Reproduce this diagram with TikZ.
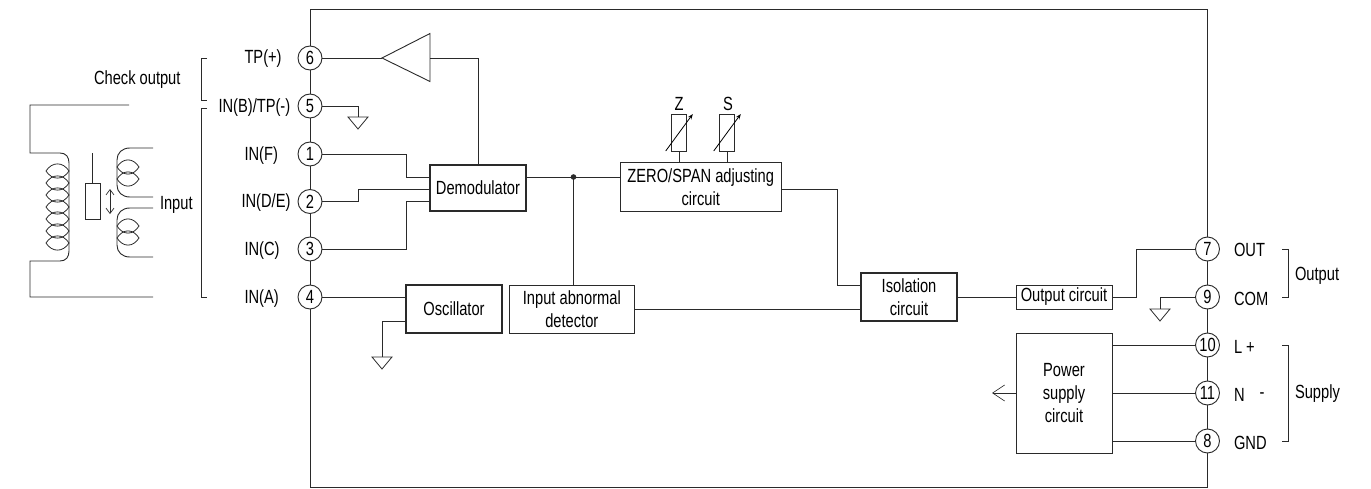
\documentclass[tikz,border=0pt]{standalone}
\usepackage{fontspec}
\setmainfont[FakeStretch=0.77]{Liberation Sans}
\usetikzlibrary{calc,arrows.meta}
\def\px{*0.75pt}
\definecolor{ink}{HTML}{2A2A2A}
\tikzset{
  base/.style={line width=0.68pt,draw=ink,text=black},
  box/.style={base,rectangle,inner sep=0pt,outer sep=0pt,fill=white,align=center,
    font=\fontsize{14.3}{17.3}\selectfont},
  boxb/.style={box,line width=0.88pt},
  term/.style={base,circle,fill=white,minimum size=24\px,inner sep=0pt,outer sep=0pt,
    font=\fontsize{14.3}{15}\selectfont},
  lab/.style={inner sep=0pt,outer sep=0pt,anchor=west,font=\fontsize{14.3}{15}\selectfont},
  mid/.style={inner sep=0pt,outer sep=0pt,font=\fontsize{14.3}{15}\selectfont},
  wire/.style={line width=0.68pt,draw=ink},
  gnd/.style={line width=0.6pt,draw=ink},
  opentip/.style={-{Straight Barb[length=9pt,width=12pt,line width=0.5pt]}},
  twotip/.style={{Straight Barb[length=4pt,width=6pt,line width=0.5pt]}-{Straight Barb[length=4pt,width=6pt,line width=0.5pt]}},
  trim/.style={-{Stealth[length=4pt,width=3pt]},line width=0.6pt,draw=black}
}
\newcommand{\earth}[1]{\draw[gnd] (#1) ++(-10,0) -- ++(20,0) -- ++(-10,12) -- cycle;}
\newcommand{\lens}[3]{\draw[line width=0.6pt,draw=ink] (#1,#3) .. controls ($(#1,#3)+(6,-9.5)$) and ($(#2,#3)+(-6,-9.5)$) .. (#2,#3) .. controls ($(#2,#3)+(-6,9.5)$) and ($(#1,#3)+(6,9.5)$) .. (#1,#3);}
\begin{document}
\begin{tikzpicture}[x=0.75pt,y=-0.75pt]
\useasboundingbox (0,0) rectangle (1371,489);
% enclosure
\coordinate (tl) at (310,9.5); \coordinate (tr) at (1207.5,9.5);
\coordinate (bl) at (310,487.5); \coordinate (br) at (1207.5,487.5);
\draw[wire] (tl) -- (tr) -- (br) -- (bl) -- cycle;
% terminals
\foreach \n/\y in {6/58,5/106,1/154,2/201.5,3/249,4/297}
  \node[term] (c\n) at (310,\y) {\n};
\foreach \n/\y in {7/249,9/297,10/345,11/393,8/441}
  \node[term] (c\n) at (1207.5,\y) {\n};
% labels
\node[lab] at (244.5,59) {TP(+)};
\node[lab] at (218.5,108) {IN(B)/TP(-)};
\node[lab] at (244.5,155.5) {IN(F)};
\node[lab] at (241.5,203) {IN(D/E)};
\node[lab] at (244.5,250.5) {IN(C)};
\node[lab] at (244.5,298.5) {IN(A)};
\node[lab] at (94,80) {Check output};
\node[lab] at (160,205) {Input};
\node[lab] at (1234,250) {OUT};
\node[lab] at (1234,299) {COM};
\node[lab] at (1234,347) {L +};
\node[lab] at (1234,395) {N};
\node[lab] at (1259.5,396) {-};
\node[lab] at (1234,443) {GND};
\node[lab] at (1295,276) {Output};
\node[lab] at (1295,394) {Supply};
\node[mid] (zl) at (679,104) {Z};
\node[mid] (sl) at (728,104) {S};
% brackets
\coordinate (ba) at (207,58); \coordinate (bb) at (207,100);
\coordinate (bc) at (207,108); \coordinate (bd) at (207,297);
\coordinate (be) at (1282,249); \coordinate (bf) at (1282,297);
\coordinate (bg) at (1282,345); \coordinate (bh) at (1282,441);
\draw[wire] (ba) -- ++(-6,0) |- (bb);
\draw[wire] (bc) -- ++(-6,0) |- (bd);
\draw[wire] (be) -- ++(6,0) |- (bf);
\draw[wire] (bg) -- ++(6,0) |- (bh);
% blocks
\node[boxb,minimum width=96\px,minimum height=46\px] (dem) at (478,188) {Demodulator};
\node[box,minimum width=161.5\px,minimum height=48.5\px] (zs) at (700.75,186.75) {ZERO/SPAN adjusting\\circuit};
\node[boxb,minimum width=96\px,minimum height=48\px] (osc) at (454,309) {Oscillator};
\node[box,minimum width=125.7\px,minimum height=48\px] (iad) at (571.85,309) {Input abnormal\\detector};
\node[boxb,minimum width=96\px,minimum height=48\px] (iso) at (909,297) {Isolation\\circuit};
\node[box,minimum width=96\px,minimum height=24\px] (oc) at (1064,297) {Output circuit};
\node[box,minimum width=96\px,minimum height=120\px] (ps) at (1064,393) {Power\\supply\\circuit};
% amplifier
\coordinate (ampa) at (382,58); \coordinate (ampt) at (430,33.5); \coordinate (ampb) at (430,81.5); \coordinate (ampm) at (430,58);
\draw[wire] (ampa) -- (ampt) -- (ampb) -- cycle;
\draw[wire] (c6.east) -- (ampa);
\draw[wire] (ampm) -| (dem.north);
% terminal 5 ground
\coordinate (g5) at (358,117);
\draw[wire] (c5.east) -| (g5);
\earth{g5}
% demodulator inputs
\coordinate (da) at (430,177); \coordinate (db) at (430,189); \coordinate (dc) at (430,201);
\draw[wire] (c1.east) -| ($(da)+(-24,0)$) -- (da);
\draw[wire] (c2.east) -| ($(db)+(-72,0)$) -- (db);
\draw[wire] (c3.east) -| ($(dc)+(-24,0)$) -- (dc);
% oscillator
\draw[wire] (c4.east) -- (c4.east -| osc.west);
\coordinate (oa) at (406,321); \coordinate (g4) at (382,357);
\draw[wire] (oa) -| (g4);
\earth{g4}
% signal chain
\coordinate (dr) at (526,177); \coordinate (zl2) at (620,177);
\draw[wire] (dr) -- (zl2);
\coordinate (jn) at (573.5,177);
\fill[ink] (jn) circle (2.8);
\draw[wire] (jn) -- (jn |- iad.north);
\coordinate (zr) at (781.5,189); \coordinate (isa) at (861,285);
\draw[wire] (zr) -- ++(55.5,0) |- (isa);
\coordinate (iadr) at (634.7,309); \coordinate (isb) at (861,309);
\draw[wire] (iadr) -- (isb);
\draw[wire] (iso.east) -- (oc.west);
\draw[wire] (oc.east) -- ++(24,0) |- (c7.west);
% terminal 9 ground
\coordinate (g9) at (1160,309);
\draw[wire] (c9.west) -| (g9);
\earth{g9}
% power
\draw[wire] (ps.east |- c10.west) -- (c10.west);
\draw[wire] (ps.east |- c11.west) -- (c11.west);
\draw[wire] (ps.east |- c8.west) -- (c8.west);
\coordinate (pa) at (992,393);
\draw[wire,opentip] (ps.west) -- (pa);
% trimmers
\node[box,minimum width=15\px,minimum height=37\px] (rz) at (679,132.5) {};
\node[box,minimum width=15\px,minimum height=37\px] (rs) at (727,132.5) {};
\draw[wire] (rz.south) -- (rz.south |- zs.north);
\draw[wire] (rs.south) -- (rs.south |- zs.north);
\coordinate (za) at (665.7,151); \coordinate (zb) at (692.8,114);
\coordinate (sa) at (713.7,151); \coordinate (sb) at (740.8,114);
\draw[trim] (za) -- (zb);
\draw[trim] (sa) -- (sb);
% sensor: primary
\coordinate (pt) at (129,105); \coordinate (pc) at (60,153);
\draw[wire] (pt) -| (30,153) -- (pc)
  .. controls (66,153) and (69,157) .. (69,163) -- (69,251)
  .. controls (69,257) and (66,261) .. (60,261) -- (30,261) |- (153,297);
\foreach \y in {171,183,195,207,219,231,243} {\lens{46}{69}{\y}}
% sensor: secondaries
\coordinate (sat) at (153,148); \coordinate (sab) at (153,197);
\coordinate (sbt) at (153,208); \coordinate (sbb) at (153,257);
\draw[wire] (sat) -- (130,148) .. controls (122,148) and (117,153) .. (117,160) -- (117,185)
  .. controls (117,192) and (122,197) .. (130,197) -- (sab);
\draw[wire] (sbt) -- (130,208) .. controls (122,208) and (117,213) .. (117,220) -- (117,245)
  .. controls (117,252) and (122,257) .. (130,257) -- (sbb);
\foreach \y in {167,179,226,238} {\lens{117}{139}{\y}}
% sensor: core
\node[box,minimum width=15\px,minimum height=36\px] (core) at (92.5,201) {};
\coordinate (rod) at (92.5,153);
\draw[wire] (rod) -- (core.north);
\coordinate (ara) at (110,189); \coordinate (arb) at (110,214);
\draw[wire,twotip] (ara) -- (arb);
\end{tikzpicture}
\end{document}
